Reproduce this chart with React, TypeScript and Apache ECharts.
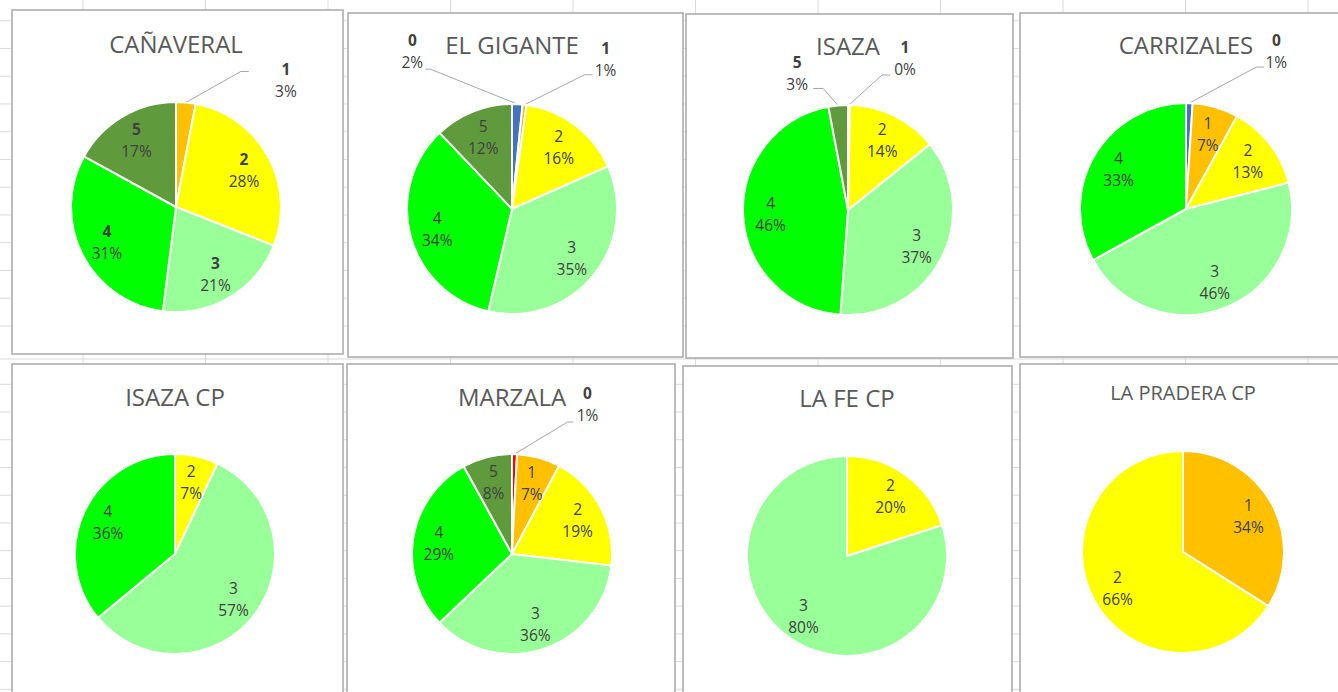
import React, { useEffect, useRef } from "react";
import * as echarts from "echarts";

// ---------- DATA ----------
const chartTitles = [
  "CAÑAVERAL",
  "EL GIGANTE",
  "ISAZA",
  "CARRIZALES",
  "ISAZA CP",
  "MARZALA",
  "LA FE CP",
  "LA PRADERA CP",
];

const canaveralCats = ["1", "2", "3", "4", "5"];
const canaveralValues = [3, 28, 21, 31, 17];

const gigCats = ["0", "1", "2", "3", "4", "5"];
const gigValues = [1.6, 0.6, 16, 35, 34, 12];

const isazaCats = ["1", "2", "3", "4", "5"];
const isazaValues = [0.3, 14, 37, 46, 3];

const carrCats = ["0", "1", "2", "3", "4"];
const carrValues = [1, 7, 13, 46, 33];

const isazaCpCats = ["2", "3", "4"];
const isazaCpValues = [7, 57, 36];

const marzalaCats = ["0", "1", "2", "3", "4", "5"];
const marzalaValues = [0.8, 7, 19, 36, 29, 8];

const laFeCats = ["2", "3"];
const laFeValues = [20, 80];

const praderaCats = ["1", "2"];
const praderaValues = [34, 66];

// ---------- STYLE ----------
const FONT = "'Open Sans', 'Liberation Sans', sans-serif";
const categoryColors: Record<string, string> = {
  "1": "#FFC000",
  "2": "#FFFF00",
  "3": "#99FF99",
  "4": "#00FF00",
  "5": "#5F9B3C",
};
const BLUE = "#4472C4";
const RED = "#FF0000";

const charts = [
  { title: chartTitles[0], cats: canaveralCats, values: canaveralValues, zeroColor: BLUE, boldNames: true },
  { title: chartTitles[1], cats: gigCats, values: gigValues, zeroColor: BLUE, boldNames: false },
  { title: chartTitles[2], cats: isazaCats, values: isazaValues, zeroColor: BLUE, boldNames: false },
  { title: chartTitles[3], cats: carrCats, values: carrValues, zeroColor: BLUE, boldNames: false },
  { title: chartTitles[4], cats: isazaCpCats, values: isazaCpValues, zeroColor: BLUE, boldNames: false },
  { title: chartTitles[5], cats: marzalaCats, values: marzalaValues, zeroColor: RED, boldNames: false },
  { title: chartTitles[6], cats: laFeCats, values: laFeValues, zeroColor: BLUE, boldNames: false },
  { title: chartTitles[7], cats: praderaCats, values: praderaValues, zeroColor: BLUE, boldNames: false },
];

// ---------- LAYOUT ----------
const layouts = [
  { panel: [12, 10, 331, 344], center: [176, 207], r: 105, titleY: 43, titleSize: 24 },
  { panel: [348, 13, 335, 344], center: [512, 209], r: 105, titleY: 44, titleSize: 24 },
  { panel: [686, 14, 327, 344], center: [848, 210], r: 105, titleY: 45, titleSize: 24 },
  { panel: [1020, 13, 330, 344], center: [1186, 209], r: 106, titleY: 44, titleSize: 24 },
  { panel: [12, 364, 331, 340], center: [175, 554], r: 100, titleY: 396, titleSize: 24 },
  { panel: [347, 364, 328, 340], center: [512, 554], r: 100, titleY: 396, titleSize: 24 },
  { panel: [683, 366, 329, 340], center: [847, 556], r: 100, titleY: 397, titleSize: 24 },
  { panel: [1020, 364, 330, 340], center: [1183, 552], r: 101, titleY: 392, titleSize: 20 },
];

// outside label placement, offsets relative to the slice's edge anchor
type OutCfg = { elbow: number[]; end: number[]; label: number[] };
const outsideLabels: Record<number, Record<number, OutCfg>> = {
  0: { 0: { elbow: [55, -31], end: [63, -31], label: [100, -22] } },
  1: {
    0: { elbow: [-87, -35], end: [-92, -35], label: [-105, -53] },
    1: { elbow: [60, -30], end: [68, -30], label: [81, -46] },
  },
  2: {
    0: { elbow: [33, -30], end: [41, -30], label: [56, -47] },
    4: { elbow: [-15, -17], end: [-25, -17], label: [-41, -32] },
  },
  3: { 0: { elbow: [67, -36], end: [75, -36], label: [87, -52] } },
  5: { 0: { elbow: [53, -32], end: [59, -32], label: [73, -50] } },
};

const gridColumns: number[] = [];
for (let k = 0; k <= 10; k++) gridColumns.push(83 + 122.5 * k);
const gridRows: number[] = [];
for (let k = 0; k < 12; k++) gridRows.push(20.7 + 27.75 * k);
gridRows.push(359);
for (let k = 0; k < 12; k++) gridRows.push(384.3 + 27.73 * k);

function buildOption() {
  const series: any[] = [];
  const graphics: any[] = [];

  gridColumns.forEach((x) =>
    graphics.push({
      type: "line",
      z: 0,
      silent: true,
      shape: { x1: x, y1: 0, x2: x, y2: 692 },
      style: { stroke: "#D9D9D9", lineWidth: 1 },
    })
  );
  gridRows.forEach((y) =>
    graphics.push({
      type: "line",
      z: 0,
      silent: true,
      shape: { x1: 0, y1: y, x2: 1338, y2: y },
      style: { stroke: "#D9D9D9", lineWidth: 1 },
    })
  );

  charts.forEach((c, i) => {
    const L = layouts[i];
    graphics.push({
      type: "rect",
      z: 1,
      silent: true,
      shape: { x: L.panel[0], y: L.panel[1], width: L.panel[2], height: L.panel[3] },
      style: { fill: "#FFFFFF", stroke: "#A8A8A8", lineWidth: 1.5 },
    });
    graphics.push({
      type: "text",
      z: 2,
      silent: true,
      x: L.center[0],
      y: L.titleY,
      style: {
        text: c.title,
        fontSize: L.titleSize,
        fontFamily: FONT,
        fill: "#595959",
        align: "center",
        verticalAlign: "middle",
        textAlign: "center",
        textVerticalAlign: "middle",
      },
    });

    const total = c.values.reduce((a, b) => a + b, 0);
    const out = outsideLabels[i] || {};
    const colorOf = (cat: string) => (cat === "0" ? c.zeroColor : categoryColors[cat]);
    const pct = (v: number) => Math.round((v / total) * 100);
    const fmt = (p: any) => `{n|${p.name}}\n{v|${pct(p.value)}%}`;
    const anchor = (idx: number) => {
      let cum = 0;
      for (let k = 0; k < idx; k++) cum += c.values[k];
      const mid = ((cum + c.values[idx] / 2) / total) * 2 * Math.PI;
      return [L.center[0] + L.r * Math.sin(mid), L.center[1] - L.r * Math.cos(mid)];
    };
    const richFor = (bold: boolean) => ({
      n: { fontFamily: FONT, fontSize: 15.5, color: "#404040", fontWeight: bold ? "bold" : "normal", lineHeight: 22, align: "center" },
      v: { fontFamily: FONT, fontSize: 15.5, color: "#404040", lineHeight: 22, align: "center" },
    });

    // main pie: slices + outside labels
    series.push({
      type: "pie",
      center: L.center,
      radius: [0, L.r],
      startAngle: 90,
      clockwise: true,
      avoidLabelOverlap: false,
      silent: true,
      z: 2,
      emphasis: { disabled: true },
      itemStyle: { borderColor: "#FFFFFF", borderWidth: 2 },
      label: { show: true, position: "outside", formatter: fmt, rich: richFor(true) },
      labelLine: { show: true, length: 10, length2: 10, lineStyle: { color: "#A6A6A6", width: 1 } },
      labelLayout: (params: any) => {
        const cfg = out[params.dataIndex];
        if (!cfg) return {};
        const [ax, ay] = anchor(params.dataIndex);
        return {
          x: ax + cfg.label[0],
          y: ay + cfg.label[1],
          align: "center",
          verticalAlign: "middle",
          labelLinePoints: [
            [ax, ay],
            [ax + cfg.elbow[0], ay + cfg.elbow[1]],
            [ax + cfg.end[0], ay + cfg.end[1]],
          ],
        };
      },
      data: c.cats.map((cat, j) => ({
        name: cat,
        value: c.values[j],
        itemStyle: { color: colorOf(cat) },
        label: { show: !!out[j] },
        labelLine: { show: !!out[j] },
      })),
    });

    // transparent overlay ring for inside labels
    series.push({
      type: "pie",
      center: L.center,
      radius: [L.r * 0.42, L.r],
      startAngle: 90,
      clockwise: true,
      avoidLabelOverlap: false,
      silent: true,
      z: 3,
      emphasis: { disabled: true },
      itemStyle: { color: "rgba(0,0,0,0)", borderWidth: 0 },
      label: { show: true, position: "inside", formatter: fmt, rich: richFor(c.boldNames) },
      labelLine: { show: false },
      data: c.cats.map((cat, j) => ({
        name: cat,
        value: c.values[j],
        label: { show: !out[j] },
      })),
    });
  });

  return { animation: false, backgroundColor: "#FFFFFF", series, graphic: graphics };
}

export default function App() {
  const ref = useRef<HTMLDivElement>(null);
  useEffect(() => {
    if (!ref.current) return;
    const chart = echarts.init(ref.current, undefined, { renderer: "svg" });
    chart.setOption(buildOption() as any);
    return () => chart.dispose();
  }, []);
  return (
    <div
      ref={ref}
      style={{ position: "absolute", left: 0, top: 0, width: 1338, height: 692 }}
    />
  );
}
